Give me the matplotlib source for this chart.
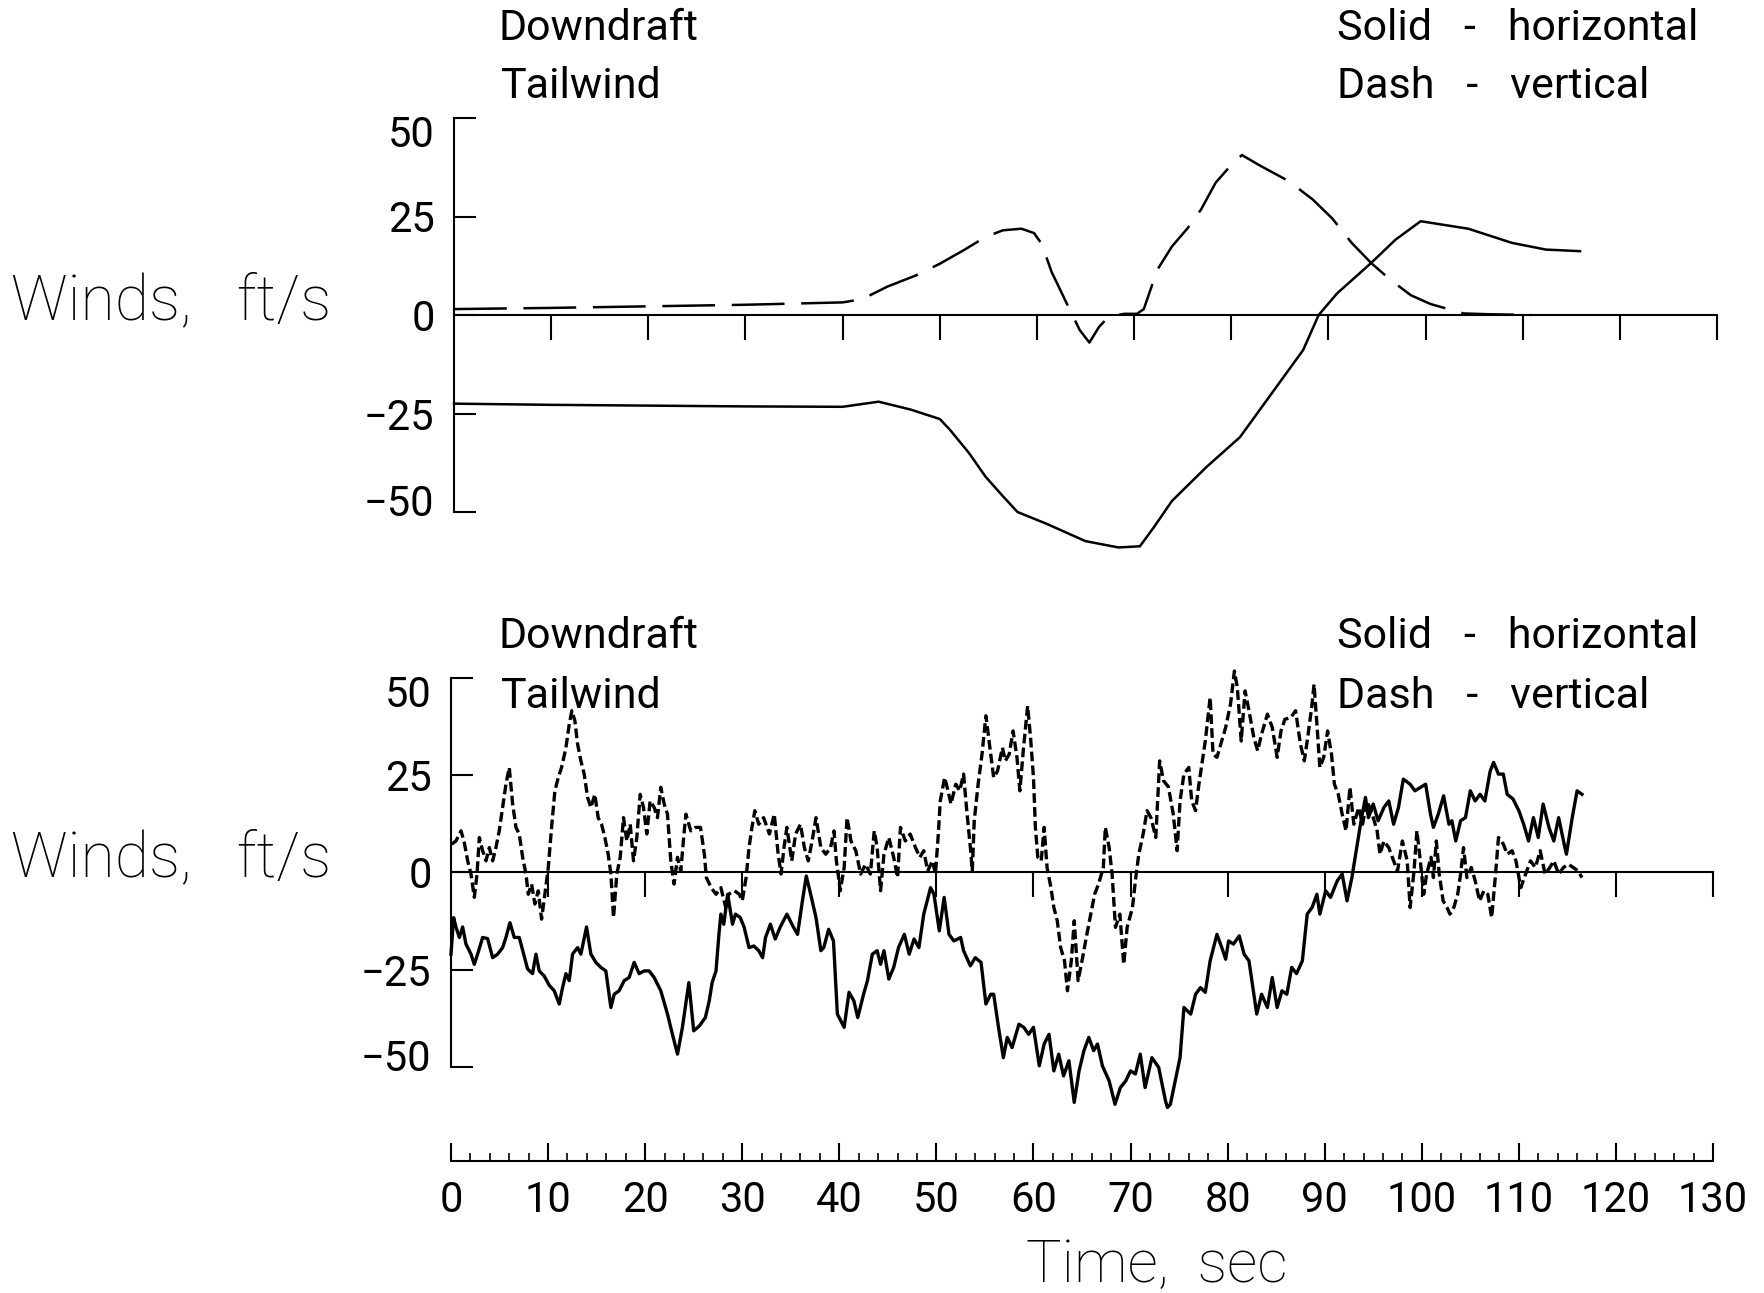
import matplotlib
matplotlib.use("Agg")
import matplotlib.pyplot as plt
import matplotlib.transforms as mtransforms

plt.rcParams['lines.scale_dashes'] = False
plt.rcParams['axes.linewidth'] = 1.5

W, H = 1765, 1293

# Smooth wind profile (upper panel)
smoothTimeH = [0, 10, 20, 30, 40, 43.7, 47, 50, 51, 53, 54.7, 56.5, 58, 61, 65, 68.4, 70.6,
               72, 73.9, 77.4, 80.9, 84.4, 87.4, 89, 90.9, 94.4, 96.9, 99.5, 104.4, 108.9,
               112.4, 115.9]
smoothHoriz = [-22.5, -22.8, -23, -23.2, -23.3, -22, -24, -26.4, -29, -35, -41, -46, -50, -53,
               -57.4, -59, -58.7, -54, -47.2, -38.7, -31, -19.1, -8.9, 0, 5.5, 13.2, 19.1, 23.8,
               21.9, 18.3, 16.6, 16.2]

smoothTimeV = [0, 10, 20, 30, 40, 42, 44.6, 47.5, 50, 52.5, 54.7, 56.5, 58.4, 59.7, 60.5, 61.5,
               62.9, 64.4, 65.4, 66.4, 67.4, 69, 70.3, 71, 72.4, 73.9, 75.5, 76.9, 78.4, 79.9,
               81.1, 82.9, 85.9, 88.4, 90.4, 92.4, 94.4, 96.4, 98.5, 100.5, 103.9, 106.4, 110.9]
smoothVert = [1.5, 1.8, 2.2, 2.6, 3.2, 4.0, 7.2, 10, 13, 16.5, 19.8, 21.5, 21.9, 20.8, 18, 11,
              3.8, -3.8, -7, -3, -0.4, 0.3, 0.3, 1.5, 11.5, 17.4, 22, 26.8, 33.6, 37.8, 40.6,
              38, 34, 29.3, 24.5, 18.3, 13.2, 8.9, 5, 2.8, 0.4, 0.2, 0]

# Turbulent wind record (lower panel)
turbTimeH = [0.0, 0.27, 0.51, 0.86, 1.2, 1.54, 2.06, 2.4, 2.74, 3.26, 3.77, 4.29, 4.8, 5.32,
             5.66, 6.07, 6.52, 7.03, 7.38, 7.89, 8.4, 8.75, 9.09, 9.6, 10.12, 10.63, 11.15,
             11.49, 11.84, 12.18, 12.52, 13.04, 13.38, 13.96, 14.41, 14.92, 15.44, 15.95,
             16.47, 16.81, 17.32, 17.84, 18.35, 18.87, 19.38, 19.9, 20.41, 20.93, 21.61, 22.3,
             22.81, 23.33, 23.84, 24.5, 25.0, 25.6, 26.2, 26.6, 26.9, 27.3, 27.6, 27.8, 28.1,
             28.5, 29.0, 29.3, 29.8, 30.2, 30.7, 31.2, 31.7, 32.1, 32.4, 32.9, 33.4, 33.9,
             34.6, 35.2, 35.7, 36.2, 36.6, 37.05, 37.6, 38.1, 38.4, 38.9, 39.4, 39.8, 40.5,
             41.0, 41.5, 41.9, 42.5, 42.9, 43.4, 43.9, 44.25, 44.6, 45.1, 45.6, 46.1, 46.7,
             47.2, 47.7, 48.2, 48.7, 49.4, 49.75, 50.3, 50.8, 51.3, 51.8, 52.5, 52.8, 53.5,
             54.0, 54.6, 55.1, 55.6, 55.9, 56.4, 56.9, 57.3, 57.8, 58.5, 59.0, 59.5, 60.0,
             60.6, 61.1, 61.6, 62.1, 62.6, 63.1, 63.65, 64.2, 64.7, 65.2, 65.7, 66.2, 66.6,
             67.1, 67.8, 68.4, 68.95, 69.5, 70.0, 70.5, 71.0, 71.5, 72.2, 72.9, 73.6, 73.8,
             74.1, 74.6, 75.1, 75.5, 76.2, 76.7, 77.2, 77.7, 78.2, 78.9, 79.4, 79.8, 80.1,
             80.6, 81.2, 81.7, 82.2, 82.6, 83.0, 83.5, 84.1, 84.6, 85.1, 85.6, 86.1, 86.6,
             87.1, 87.7, 88.2, 88.7, 89.2, 89.5, 90.1, 90.6, 91.3, 91.8, 92.3, 92.8, 93.3,
             93.8, 94.2, 94.5, 95.0, 95.5, 96.1, 96.6, 97.1, 97.6, 98.1, 98.8, 99.3, 100.4,
             100.9, 101.2, 101.7, 102.25, 102.8, 103.1, 103.5, 104.0, 104.5, 105.0, 105.5,
             106.0, 106.5, 107.05, 107.4, 107.9, 108.4, 108.8, 109.4, 110.0, 110.5, 111.0,
             111.5, 112.0, 112.5, 113.1, 113.6, 114.1, 114.6, 114.9, 115.5, 116.0, 116.5]
turbHoriz = [-21, -11.6, -14, -16.7, -14, -18.4, -21, -23.6, -21, -16.7, -17, -21.9, -21, -19.3,
             -16.7, -12.9, -16.7, -16.7, -20, -24.8, -26, -21, -25.3, -26.6, -29, -30.4, -33.8,
             -29.6, -26, -27.8, -21, -19.3, -21, -14, -21, -23.1, -24.4, -25.3, -34.7, -31.3,
             -30.4, -27.8, -27, -23.1, -26, -25.3, -25.3, -27, -30.4, -36.4, -41.6, -46.7,
             -39.8, -28.3, -40.7, -39.4, -37.3, -33, -28.3, -25.3, -15.9, -10.7, -13.3, -5.6,
             -13.3, -10.7, -11.6, -14.1, -19.3, -18.9, -20.1, -21.9, -16.7, -13.3, -17.1,
             -14.1, -10.7, -13.7, -15.9, -7.3, -0.9, -5.6, -11.6, -20.1, -19.3, -14.6, -17.6,
             -36.4, -39.8, -30.8, -33, -37.3, -31.3, -27.8, -21, -20.1, -23.6, -20.1, -27.4,
             -24.4, -19.3, -15.9, -21, -17.1, -19.3, -10.7, -3.9, -5.6, -15, -6.4, -15.9,
             -17.6, -16.7, -20.1, -24, -21.9, -23.1, -33.8, -31.3, -31.3, -39.8, -47.6, -42.4,
             -45, -39, -39.8, -41.6, -39.8, -49.7, -44.1, -41.6, -51, -46.7, -52.3, -48.4,
             -59.1, -51, -45.8, -42.4, -45.8, -44.1, -49.7, -53.6, -59.6, -55.3, -53.6, -51,
             -51.8, -46.7, -55.3, -47.6, -50.1, -58.7, -60.4, -59.6, -53.6, -47.6, -34.7,
             -36.4, -31.3, -29.6, -30.8, -22.7, -15.9, -19.3, -22.3, -17.6, -18.4, -16.3, -21,
             -22.7, -29.6, -36.4, -31.3, -34.7, -27, -34.7, -30.4, -31.3, -24.4, -26, -22.7,
             -10.7, -9, -5.6, -10.7, -4.7, -6.4, -2.1, -0.4, -7.3, -1.3, 6.4, 14.1, 19.3,
             14.1, 17.6, 13.3, 16.7, 18.4, 12.4, 16.7, 24, 22.7, 21, 22.7, 15, 11.6, 15, 19.7,
             12.4, 13.3, 8.1, 13.3, 14.1, 21, 18.4, 20.1, 18.4, 26.1, 28.3, 25.3, 25.3, 20.1,
             18.9, 15.9, 12.4, 8.1, 14.1, 9, 17.6, 11.6, 8.1, 14.1, 8.1, 4.7, 14.1, 21, 20.1]

turbTimeV = [0.07, 0.51, 1.03, 1.37, 1.72, 2.06, 2.4, 2.68, 2.92, 3.26, 3.6, 3.95, 4.29, 4.63,
             4.97, 5.32, 5.66, 6.0, 6.35, 6.69, 7.03, 7.38, 7.72, 7.96, 8.3, 8.64, 8.99, 9.33,
             9.67, 10.02, 10.36, 10.7, 11.05, 11.39, 11.84, 12.18, 12.45, 12.76, 13.04, 13.38,
             13.72, 14.07, 14.41, 14.82, 15.16, 15.51, 15.85, 16.19, 16.47, 16.74, 17.08,
             17.43, 17.77, 18.11, 18.46, 18.8, 19.14, 19.49, 19.83, 20.17, 20.51, 20.93,
             21.27, 21.61, 21.96, 22.3, 22.64, 22.98, 23.33, 23.67, 24.0, 24.2, 24.7, 25.2,
             25.7, 26.1, 26.3, 26.8, 27.3, 27.8, 28.3, 28.6, 29.2, 29.7, 30.0, 30.4, 30.7,
             31.0, 31.3, 31.7, 32.2, 32.8, 33.3, 33.7, 34.0, 34.3, 34.6, 35.1, 35.5, 36.0,
             36.4, 36.8, 37.2, 37.6, 38.1, 38.6, 39.1, 39.45, 39.7, 40.1, 40.5, 40.8, 41.2,
             41.7, 42.2, 42.7, 43.2, 43.6, 43.9, 44.25, 44.6, 45.1, 45.6, 46.0, 46.3, 46.8,
             47.3, 47.85, 48.3, 48.7, 49.1, 49.6, 49.9, 50.2, 50.4, 50.85, 51.2, 51.5, 52.0,
             52.4, 52.8, 53.1, 53.5, 53.7, 53.9, 54.3, 54.7, 55.1, 55.6, 55.9, 56.3, 56.8,
             57.1, 57.5, 57.9, 58.3, 58.6, 58.95, 59.4, 59.7, 60.0, 60.2, 60.45, 60.8, 61.1,
             61.4, 61.8, 62.1, 62.45, 62.8, 63.2, 63.5, 63.9, 64.2, 64.6, 65.0, 65.5, 65.9,
             66.3, 66.7, 67.2, 67.4, 67.8, 68.1, 68.45, 68.9, 69.3, 69.65, 70.2, 70.5, 70.85,
             71.3, 71.7, 72.1, 72.6, 73.0, 73.4, 73.9, 74.4, 74.8, 75.1, 75.5, 76.0, 76.3,
             76.7, 77.0, 77.4, 77.7, 78.2, 78.5, 78.9, 79.3, 79.8, 80.3, 80.7, 81.0, 81.4,
             81.8, 82.2, 82.7, 83.1, 83.5, 84.1, 84.6, 85.1, 85.5, 85.9, 86.5, 87.0, 87.5,
             87.9, 88.3, 88.7, 88.9, 89.2, 89.5, 89.9, 90.3, 90.7, 91.0, 91.4, 91.8, 92.2,
             92.6, 93.0, 93.5, 93.9, 94.35, 94.9, 95.4, 95.7, 96.1, 96.6, 97.1, 97.5, 98.0,
             98.5, 98.8, 99.2, 99.5, 99.85, 100.2, 100.5, 100.95, 101.2, 101.5, 101.8, 102.2,
             102.6, 102.9, 103.3, 103.7, 104.0, 104.3, 104.65, 105.1, 105.5, 105.95, 106.4,
             106.8, 107.2, 107.6, 107.9, 108.4, 108.8, 109.3, 109.7, 110.2, 110.7, 111.2,
             111.7, 112.2, 112.7, 113.2, 113.6, 114.1, 114.6, 115.1, 115.6, 116.1, 116.5]
turbVert = [7.3, 8.1, 10.7, 7.7, 3, -0.4, -6.4, -0.4, 9, 5.6, 3, 6.4, 3, 6.4, 10.7, 16.7, 22.7,
            27, 17.6, 11.6, 9.9, 3.9, -0.4, -5.6, -3, -8.1, -4.7, -12, -5.6, 1.3, 11.6, 21,
            24.4, 27, 32.1, 38.1, 41.6, 39, 33, 28.7, 25.3, 19.3, 16.7, 20.1, 14.1, 12.4, 9,
            4.7, -0.4, -11.6, -0.4, 3.9, 14.1, 8.1, 12.4, 3, 9, 20.1, 16.7, 9.9, 18.4, 16.7,
            14.1, 21.9, 17.6, 15, 3, -3, 3.9, 0.4, 9.9, 15, 10.7, 11.6, 11.6, 4.7, -1.3, -3.9,
            -5.6, -3.9, -9, -5.6, -4.7, -5.6, -7.3, -1.3, 6.4, 11.6, 15.9, 12.4, 14.1, 9.9, 15,
            4.7, -0.4, 6.4, 11.6, 3, 9.9, 12.4, 6.4, 3, 8.1, 14.1, 6.4, 4.7, 6.4, 10.7, 3,
            -4.7, 1.3, 14.1, 8.1, 5.6, -0.4, 2.1, -0.4, 10.7, 6.4, -4.7, 4.7, 9, 3.9, -1.3,
            11.6, 8.1, 9.9, 6.4, 3.9, 5.6, 0.4, 3, -0.4, 9.9, 18.4, 24.4, 21, 17.6, 22.7, 21,
            25.3, 16.7, 6.4, 0.4, 13.3, 22.7, 30.4, 40.3, 30.4, 24.4, 26.1, 32.1, 28.7, 30.4,
            36.4, 29.6, 21, 31.3, 42.8, 34.7, 24.4, 11.6, 3.9, 3, 11.6, 1.3, -3.9, -9, -12.4,
            -19.3, -22.7, -30.4, -22.7, -12.4, -27.8, -22.7, -15.9, -10.7, -5.6, -3, 1.3,
            11.6, 6.4, -0.4, -14.1, -10.7, -23.6, -14.1, -9, -2.1, 4.7, 9.9, 15.9, 14.1, 9,
            28.7, 23.6, 22, 15, 5.6, 18.4, 25.3, 27, 18.4, 15.9, 21.9, 28.7, 33.8, 45, 30.4,
            29.6, 33, 37.3, 43.3, 51.8, 47.6, 33.8, 46.7, 41.6, 34.7, 31.3, 35.6, 40.7, 37.3,
            29.6, 36.4, 39.4, 39.8, 41.6, 33, 28.7, 35.6, 43.3, 48.4, 38.1, 27, 29.6, 36.4,
            30.4, 22.7, 20.1, 15, 10.7, 21.9, 12.4, 16.7, 12.4, 18.4, 15, 10.7, 4.7, 8.1, 6.4,
            3, 0.4, 8.1, 3, -9, 0.4, 10.7, 3, -5.6, -0.4, 3.9, -1.3, 8.1, -0.4, -7.3, -9,
            -10.7, -9, -5.6, -0.4, 6.4, -1.3, 1.3, -2.1, -7.3, -4.7, -5.6, -11.6, -0.4, 9, 7.3,
            4.7, 5.6, 3, -3.9, -0.4, 3, 1.3, 5.6, -0.4, 1.3, 3, -0.4, 1.3, 2.1, 1.3, 0.4, -1.3]

yTicks = [-50, -25, 0, 25, 50]
xTicks = list(range(0, 131, 10))

textFont = ['Roboto', 'DejaVu Sans']


def px(x, y):
    # pixel position (from top-left) to figure fraction
    return x / W, 1 - y / H


def setupPanel(ax):
    ax.set_xlim(0, 130)
    ax.set_ylim(-50, 50)
    for s in ['top', 'right']:
        ax.spines[s].set_visible(False)
    ax.spines['bottom'].set_position(('data', 0))
    ax.spines['bottom'].set_zorder(1)
    ax.set_xticks(xTicks[1:])
    ax.tick_params(axis='x', direction='out', length=18, width=1.5, labelbottom=False)
    ax.set_yticks(yTicks)
    ax.set_yticklabels([str(v).replace('-', '\u2212') for v in yTicks], family=textFont,
                       fontsize=30)
    ax.tick_params(axis='y', direction='in', length=16, width=1.5, pad=14)
    labels = ax.get_yticklabels()
    # keep the end labels inside the bracket
    down = mtransforms.ScaledTranslation(0, -0.13, ax.figure.dpi_scale_trans)
    up = mtransforms.ScaledTranslation(0, 0.12, ax.figure.dpi_scale_trans)
    labels[-1].set_transform(labels[-1].get_transform() + down)
    labels[0].set_transform(labels[0].get_transform() + up)
    ax.patch.set_visible(False)


fig = plt.figure(figsize=(W / 100, H / 100), dpi=100)

axTop = fig.add_axes([454 / W, 1 - 512 / H, (1717 - 454) / W, (512 - 118) / H])
setupPanel(axTop)
axTop.plot(smoothTimeH, smoothHoriz, color='black', lw=1.8, clip_on=False)
axTop.plot(smoothTimeV, smoothVert, color='black', lw=1.8, dashes=(38, 12), clip_on=False)

axBot = fig.add_axes([451 / W, 1 - 1067 / H, (1713 - 451) / W, (1067 - 678) / H])
setupPanel(axBot)
axBot.plot(turbTimeH, turbHoriz, color='black', lw=2.4, clip_on=False)
axBot.plot(turbTimeV, turbVert, color='black', lw=2.4, dashes=(7, 3), clip_on=False)

# time ruler under the panels
axRuler = fig.add_axes([451 / W, 1 - 1161 / H, (1713 - 451) / W, 0.03])
axRuler.set_xlim(0, 130)
axRuler.set_ylim(0, 1)
for s in ['top', 'right', 'left']:
    axRuler.spines[s].set_visible(False)
axRuler.set_yticks([])
axRuler.set_xticks(xTicks)
axRuler.set_xticks(range(0, 131, 2), minor=True)
axRuler.set_xticklabels([str(v) for v in xTicks], family=textFont, fontsize=30)
axRuler.tick_params(axis='x', which='major', direction='in', length=13, width=1.5, pad=14)
axRuler.tick_params(axis='x', which='minor', direction='in', length=6, width=1.2)
axRuler.patch.set_visible(False)

fig.text(*px(1157, 1266), 'Time,  sec', family=textFont, fontweight='light', fontsize=43,
         ha='center', va='center')

for ax in (axTop, axBot):
    tr = mtransforms.blended_transform_factory(fig.transFigure, ax.transData)
    ax.text(11 / W, -1, 'Winds,   ft/s', transform=tr, family=textFont, fontweight='light',
            fontsize=45, ha='left', va='baseline')

for yOff in (0, 609):
    fig.text(*px(499, 28 + yOff), 'Downdraft', family=textFont, fontsize=31, va='center')
    fig.text(*px(501, 87 + yOff), 'Tailwind', family=textFont, fontsize=31, va='center')
    fig.text(*px(1337, 28 + yOff), 'Solid   -   horizontal', family=textFont,
             fontsize=31, va='center')
    fig.text(*px(1337, 87 + yOff), 'Dash   -   vertical', family=textFont,
             fontsize=31, va='center')

fig.savefig('out.png', dpi=100, facecolor='white')
